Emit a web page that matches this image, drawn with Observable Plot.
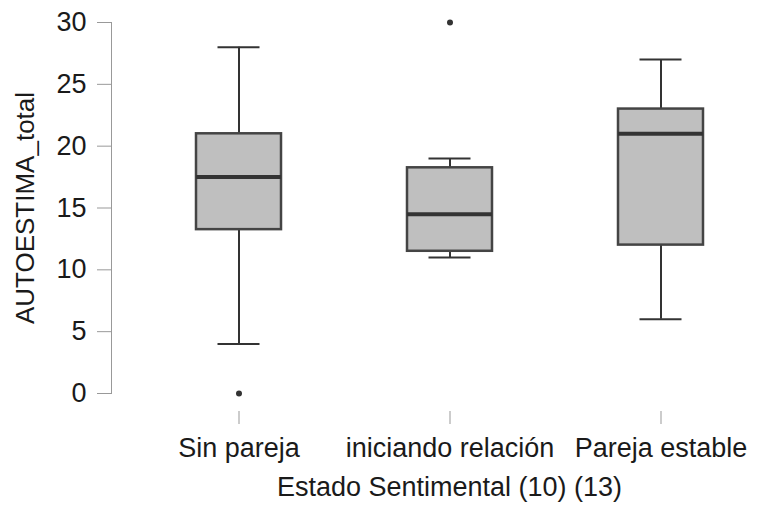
<!DOCTYPE html>
<html><head><meta charset="utf-8">
<script src="https://cdn.jsdelivr.net/npm/d3@7"></script>
<script src="https://cdn.jsdelivr.net/npm/@observablehq/plot@0.6"></script>
<style>body{margin:0;background:#fff}</style>
</head><body><div id="chart"></div>
<script>
const categories = ["Sin pareja", "iniciando relación", "Pareja estable"];
const whiskerLow = [4, 11, 6];
const q1 = [13.25, 11.5, 12];
const median = [17.5, 14.5, 21];
const q3 = [21, 18.25, 23];
const whiskerHigh = [28, 19, 27];
const outlierCat = ["Sin pareja", "iniciando relación"];
const outlierVal = [0, 30];
const yTicks = [0, 5, 10, 15, 20, 25, 30];
const yLabel = "AUTOESTIMA_total";
const xLabel = "Estado Sentimental (10) (13)";

const stats = categories.map((c, i) => ({cat: c, low: whiskerLow[i], q1: q1[i], med: median[i], q3: q3[i], high: whiskerHigh[i]}));
const outliers = outlierCat.map((c, i) => ({cat: c, v: outlierVal[i]}));

const dark = "#333333";
const txt = "#1a1a1a";
const chart = Plot.plot({
  width: 777, height: 512,
  marginTop: 22, marginBottom: 119, marginLeft: 111, marginRight: 0,
  style: {fontFamily: "'Liberation Sans', Arial, sans-serif", fontSize: "27px", color: txt, background: "#fff"},
  x: {type: "band", domain: categories, range: [132.5, 765.5], padding: 0},
  y: {domain: [0, 30], range: [393, 22]},
  marks: [
    Plot.frame({anchor: "left", stroke: "#999"}),
    Plot.axisY({ticks: yTicks, tickSize: 14, tickPadding: 11, stroke: "#999", fill: txt, fontSize: 27, label: null}),
    Plot.axisX({tickSize: 13, dy: 18, tickPadding: 13, stroke: "#999", fill: txt, fontSize: 27, label: null}),
    Plot.text([yLabel], {frameAnchor: "left", textAnchor: "middle", rotate: -90, dx: -86, fontSize: 26, fill: txt}),
    Plot.text([xLabel], {frameAnchor: "bottom", textAnchor: "middle", dx: 5, dy: 102, fontSize: 27, fill: txt}),
    Plot.ruleX(stats, {x: "cat", y1: "low", y2: "high", stroke: dark, strokeWidth: 2}),
    Plot.tickY(stats, {x: "cat", y: "low", insetLeft: 84.5, insetRight: 84.5, stroke: dark, strokeWidth: 2}),
    Plot.tickY(stats, {x: "cat", y: "high", insetLeft: 84.5, insetRight: 84.5, stroke: dark, strokeWidth: 2}),
    Plot.barY(stats, {x: "cat", y1: "q1", y2: "q3", fill: "#bfbfbf", stroke: "#444", strokeWidth: 2.5, insetLeft: 63, insetRight: 63}),
    Plot.tickY(stats, {x: "cat", y: "med", insetLeft: 63, insetRight: 63, stroke: dark, strokeWidth: 4}),
    Plot.dot(outliers, {x: "cat", y: "v", r: 3, fill: dark, stroke: null})
  ]
});
document.getElementById("chart").append(chart);
</script>
</body></html>
